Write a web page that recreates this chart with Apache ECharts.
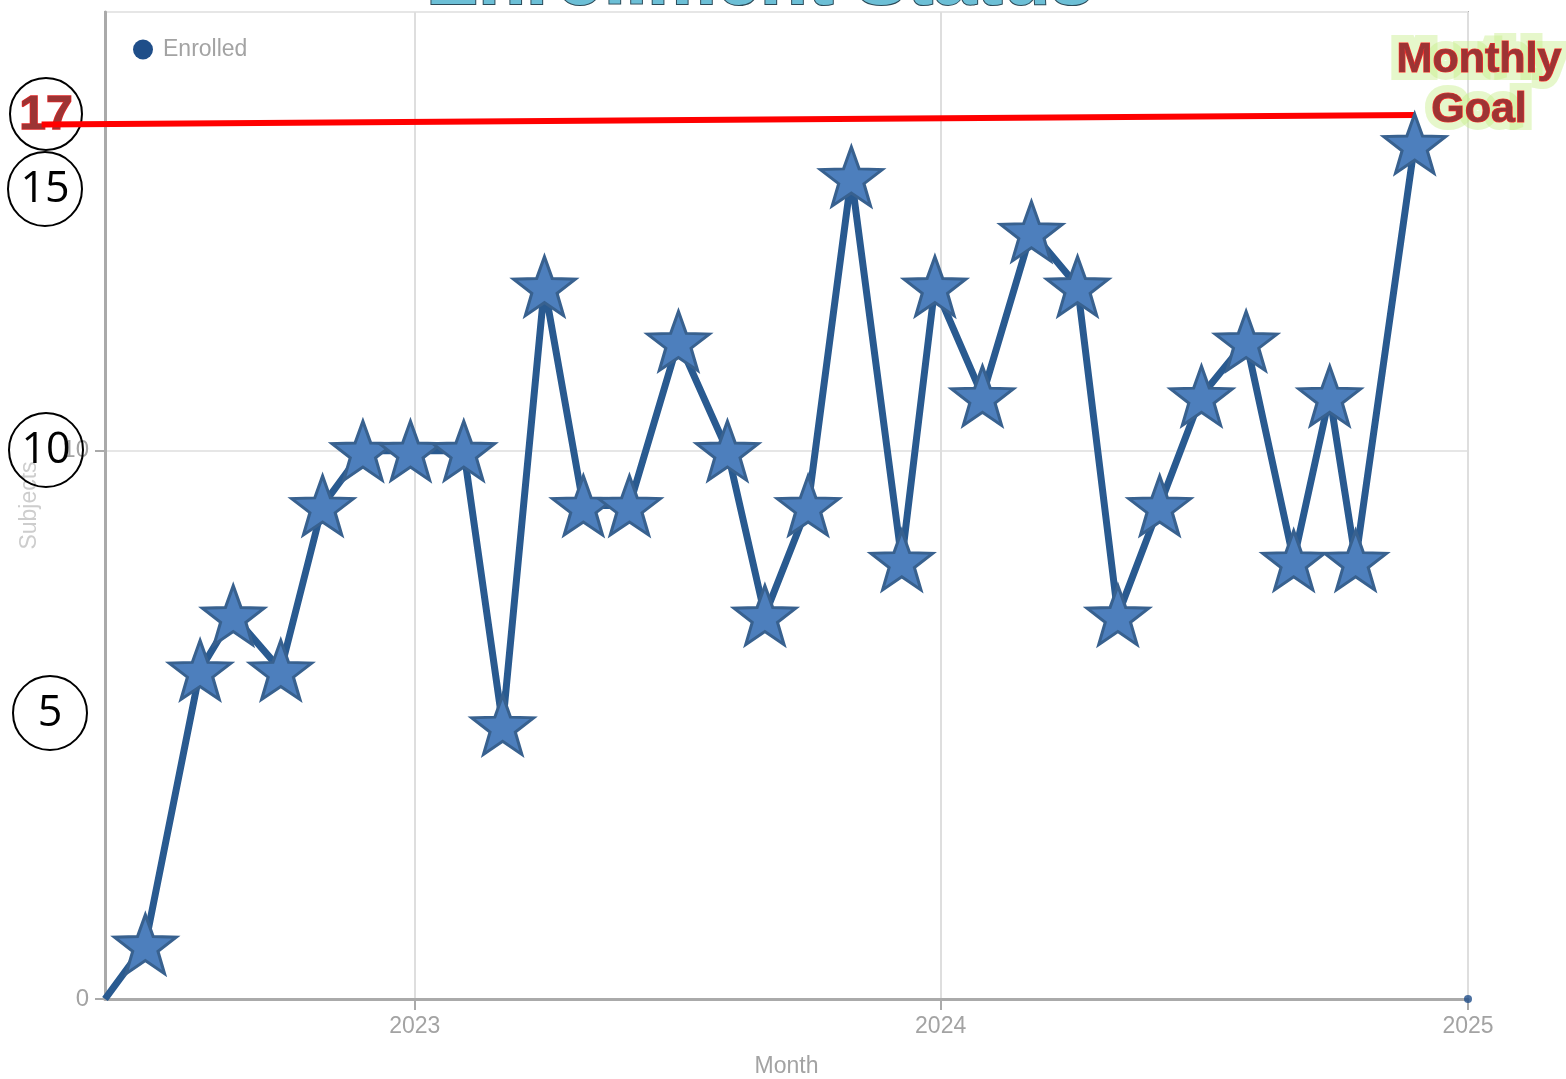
<!DOCTYPE html>
<html>
<head>
<meta charset="utf-8">
<title>Enrollment Status</title>
<script src="https://cdn.jsdelivr.net/npm/echarts@6/dist/echarts.min.js"></script>
<style>
  html, body { margin: 0; padding: 0; background: #fff; }
  #chart { width: 1566px; height: 1079px; }
</style>
</head>
<body>
<div id="chart"></div>
<script>
// enrollment per month
const months = [
  '2022-05-31', '2022-06-28', '2022-08-05', '2022-08-28', '2022-09-30', '2022-10-29',
  '2022-11-26', '2022-12-29', '2023-02-04', '2023-03-03', '2023-04-01', '2023-04-28',
  '2023-05-30', '2023-07-03', '2023-08-06', '2023-09-01', '2023-10-01', '2023-10-31',
  '2023-12-05', '2023-12-28', '2024-01-30', '2024-03-04', '2024-04-05', '2024-05-03',
  '2024-06-01', '2024-06-30', '2024-07-31', '2024-09-02', '2024-09-27', '2024-10-15',
  '2024-11-25'
]
const enrolled = [
  0, 1, 6, 7, 6, 9,
  10, 10, 10, 5, 13, 9,
  9, 12, 10, 7, 9, 15,
  8, 13, 11, 14, 13, 7,
  9, 11, 12, 8, 11, 8,
  15.6
]
const endPoint = [['2025-01-01', 0]]
const goalStart = ['2022-04-17', 15.95]
const goalEnd = ['2024-11-25', 16.12]
const axisStart = '2022-05-31'
const axisEnd = '2025-01-01'

// circled callouts pasted over the axis
const callouts = [
  { text: '15', cx: 45, cy: 189 },
  { text: '10', cx: 46, cy: 450 },
  { text: '5', cx: 50, cy: 713 }
]

const starPath = 'path://M0,-100L24,-33L95.1,-30.9L38.8,12.6L58.8,80.9L0,41L-58.8,80.9L-38.8,12.6L-95.1,-30.9L-24,-33Z'
const fontSans = '"Liberation Sans", Arial, sans-serif'

const chart = echarts.init(document.getElementById('chart'))

// first point is drawn without a star
const seriesData = months.map((m, i) => i === 0
  ? { value: [m, enrolled[i]], symbol: 'none' }
  : [m, enrolled[i]])

const graphics = [
  {
    type: 'text',
    x: 760,
    y: -18,
    z: 100,
    style: {
      text: 'Enrollment Status',
      font: 'bold 78px ' + fontSans,
      fill: '#6cbfd6',
      stroke: '#2c4a58',
      lineWidth: 2,
      align: 'center',
      verticalAlign: 'middle',
      shadowColor: 'rgba(0,0,0,0.45)',
      shadowBlur: 4,
      shadowOffsetY: 2
    }
  },
  {
    type: 'circle',
    z: 1,
    shape: { cx: 46, cy: 114, r: 36 },
    style: { fill: 'none', stroke: '#000', lineWidth: 2 }
  },
  {
    type: 'text',
    x: 46,
    y: 116,
    z: 1,
    style: {
      text: '17',
      font: 'bold 48px ' + fontSans,
      fill: '#9c3434',
      stroke: '#e02525',
      lineWidth: 1.5,
      align: 'center',
      verticalAlign: 'middle'
    }
  },
  // glow behind "Monthly Goal"
  {
    type: 'text',
    x: 1479,
    y: 85,
    z: 99,
    style: {
      text: 'Monthly\nGoal',
      font: 'bold 43px ' + fontSans,
      lineHeight: 50,
      fill: 'rgba(200, 238, 140, 0.6)',
      stroke: 'rgba(200, 238, 140, 0.45)',
      lineWidth: 16,
      align: 'center',
      verticalAlign: 'middle',
      shadowColor: 'rgba(180, 228, 110, 0.9)',
      shadowBlur: 12
    }
  },
  {
    type: 'text',
    x: 1479,
    y: 85,
    z: 100,
    style: {
      text: 'Monthly\nGoal',
      font: 'bold 43px ' + fontSans,
      lineHeight: 50,
      fill: '#9c3434',
      stroke: '#ff2a2a',
      lineWidth: 1.2,
      align: 'center',
      verticalAlign: 'middle'
    }
  }
]

callouts.forEach(c => {
  graphics.push({
    type: 'circle',
    z: 100,
    shape: { cx: c.cx, cy: c.cy, r: 37 },
    style: { fill: 'none', stroke: '#000', lineWidth: 2 }
  })
  graphics.push({
    type: 'text',
    x: c.cx,
    y: c.cy + 1,
    z: 100,
    style: {
      text: c.text,
      font: '43px "Open Sans", "DejaVu Sans", sans-serif',
      fill: '#000',
      align: 'center',
      verticalAlign: 'middle'
    }
  })
})

const option = {
  animation: false,
  backgroundColor: '#fff',
  grid: {
    left: 105,
    right: 98,
    top: 12,
    bottom: 80,
    outerBoundsMode: 'none',
    show: true,
    borderColor: '#b4b4b4',
    borderWidth: 2
  },
  legend: {
    left: 128,
    top: 33,
    itemWidth: 20,
    itemHeight: 20,
    data: [{ name: 'Enrolled', icon: 'circle', itemStyle: { color: '#1f4e89', borderWidth: 0 } }],
    textStyle: {
      color: '#a3a3a3',
      fontSize: 23,
      fontFamily: fontSans,
      padding: [0, 0, 0, 5]
    }
  },
  xAxis: {
    type: 'time',
    min: axisStart,
    max: axisEnd,
    splitNumber: 3,
    minInterval: 300 * 24 * 3600 * 1000,
    name: 'Month',
    nameLocation: 'middle',
    nameGap: 56,
    nameTextStyle: { color: '#a3a3a3', fontSize: 23, fontFamily: fontSans },
    axisLine: { lineStyle: { color: '#aaaaaa', width: 3 } },
    axisTick: { show: true, length: 11, lineStyle: { color: '#aaaaaa', width: 2 } },
    axisLabel: {
      color: '#a3a3a3',
      fontSize: 23,
      fontFamily: fontSans,
      margin: 16,
      formatter: v => String(new Date(v).getFullYear()),
      showMinLabel: false,
      showMaxLabel: true
    },
    splitLine: { show: true, lineStyle: { color: '#dedede', width: 2 } }
  },
  yAxis: {
    type: 'value',
    min: 0,
    max: 18,
    interval: 10,
    name: 'Subjects',
    nameLocation: 'middle',
    nameGap: 64,
    nameTextStyle: { color: '#cdcdcd', fontSize: 23, fontFamily: fontSans },
    axisLine: { show: true, lineStyle: { color: '#aaaaaa', width: 3 } },
    axisTick: { show: true, length: 10, lineStyle: { color: '#aaaaaa', width: 2 } },
    axisLabel: {
      color: '#a3a3a3',
      fontSize: 24,
      fontFamily: fontSans,
      margin: 16,
      showMaxLabel: false
    },
    splitLine: { show: true, lineStyle: { color: '#e6e6e6', width: 2 } }
  },
  series: [
    {
      name: 'Enrolled',
      type: 'line',
      data: seriesData,
      symbol: starPath,
      symbolSize: [62, 59],
      showAllSymbol: true,
      lineStyle: { color: '#295a90', width: 7 },
      itemStyle: { color: '#4d7fbd', borderColor: '#38618f', borderWidth: 3 },
      z: 3
    },
    {
      name: 'End',
      type: 'scatter',
      data: endPoint,
      symbol: 'circle',
      symbolSize: 8,
      itemStyle: { color: '#1f4e89' },
      z: 3
    }
  ],
  graphic: graphics
}

chart.setOption(option)

// monthly goal line, placed through the axes
const p1 = chart.convertToPixel({ gridIndex: 0 }, goalStart)
const p2 = chart.convertToPixel({ gridIndex: 0 }, goalEnd)
graphics.push({
  type: 'line',
  z: 2,
  shape: { x1: p1[0], y1: p1[1], x2: p2[0], y2: p2[1] },
  style: { stroke: '#ff0000', lineWidth: 6 }
})
chart.setOption({ graphic: graphics })
</script>
</body>
</html>
